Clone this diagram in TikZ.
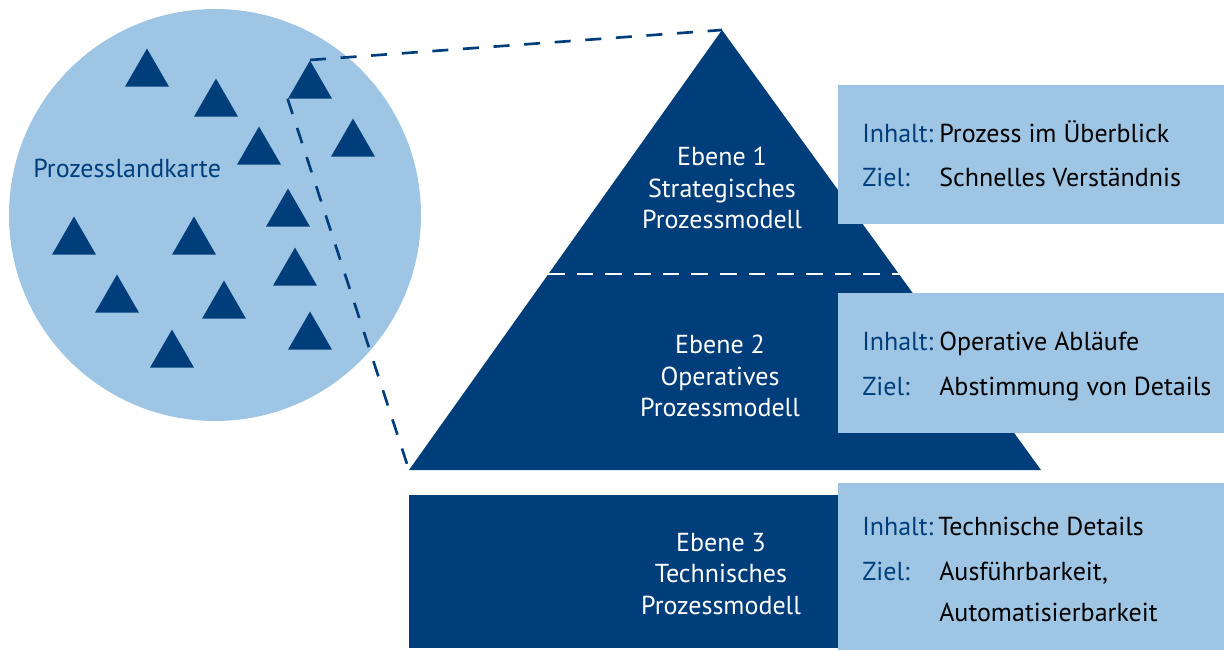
\documentclass[tikz,border=0pt]{standalone}
\usepackage{fontspec}
\setmainfont{PT Sans}
\usetikzlibrary{shapes.geometric}
\definecolor{dunkelblau}{RGB}{0,62,123}
\definecolor{hellblau}{RGB}{158,198,228}
\tikzset{
  dreieck/.style={regular polygon, regular polygon sides=3, fill=dunkelblau, inner sep=0pt, minimum size=38pt, anchor=north},
  infobox/.style={fill=hellblau, inner sep=0pt, minimum width=289.5pt, anchor=north west},
  ebenetext/.style={text=white, align=center, font=\fontsize{19.5}{23.5}\selectfont, inner sep=0.75pt},
  lbl/.style={text=dunkelblau, anchor=base west, inner sep=0.75pt, font=\fontsize{19.5}{22}\selectfont},
  wert/.style={text=black, anchor=base west, inner sep=0.75pt, font=\fontsize{19.5}{22}\selectfont},
  blaustrich/.style={draw=dunkelblau, line width=2pt, dash pattern=on 12pt off 11pt},
  weissstrich/.style={draw=white, line width=1.5pt, dash pattern=on 12.5pt off 9pt},
}
\begin{document}
\begin{tikzpicture}[x=0.75pt,y=0.75pt,yscale=-1,xscale=1]
        \useasboundingbox (0,0) rectangle (1224,652);
        \node [circle, fill=hellblau, inner sep=0pt, minimum size=309pt] (karte) at (215,215) {};
        \foreach \x/\y [count=\i] in {147/48, 216/78, 310/60, 259/126, 353/118, 288/188, 74/216, 194/216, 295/247, 117/274, 224/280, 310/311, 172/329}
          \node [dreieck] (t\i) at (\x,\y) {};
        \node [lbl] (kartentitel) at (32,178) {Prozesslandkarte};
        
        \coordinate (spitze) at (722,30);
        \coordinate (basisL) at (409,470);
        \coordinate (basisR) at (1041,470);
        \coordinate (stufeL) at (548,274);
        \coordinate (stufeR) at (900,274);
        \draw [blaustrich] (t3.north) -- (spitze);
        \draw [blaustrich] (t3.corner 2) -- (basisL);
        \fill [dunkelblau] (spitze) -- (basisR) -- (basisL) -- cycle;
        \draw [weissstrich] (stufeL) -- (stufeR);
        \node [fill=dunkelblau, inner sep=0pt, anchor=north west, minimum width=322.5pt, minimum height=114.75pt] (stufe3) at (409,495) {};
        
        \node [infobox, minimum height=104.25pt] (box1) at (838,85) {};
        \node [infobox, minimum height=105pt] (box2) at (838,293) {};
        \node [infobox, minimum height=125.25pt] (box3) at (838,483) {};
        
        \node [ebenetext] (ebene1) at (722,188) {Ebene 1\\Strategisches\\Prozessmodell};
        \node [ebenetext] (ebene2) at (720,376) {Ebene 2\\Operatives\\Prozessmodell};
        \node [ebenetext] (ebene3) at (721,574) {Ebene 3\\Technisches\\Prozessmodell};
        
        \node [lbl] (inhalt1) at (861,143) {Inhalt:};
        \node [wert] (wert1a) at (938,143) {Prozess im Überblick};
        \node [lbl] (ziel1) at (861,187) {Ziel:};
        \node [wert] (wert1b) at (938,187) {Schnelles Verständnis};
        \node [lbl] (inhalt2) at (861,350) {Inhalt:};
        \node [wert] (wert2a) at (938,350) {Operative Abläufe};
        \node [lbl] (ziel2) at (861,395) {Ziel:};
        \node [wert] (wert2b) at (938,395) {Abstimmung von Details};
        \node [lbl] (inhalt3) at (861,535) {Inhalt:};
        \node [wert] (wert3a) at (937,535) {Technische Details};
        \node [lbl] (ziel3) at (861,580) {Ziel:};
        \node [wert] (wert3b) at (938,580) {Ausführbarkeit,};
        \node [wert] (wert3c) at (938,621) {Automatisierbarkeit};
\end{tikzpicture}
\end{document}
